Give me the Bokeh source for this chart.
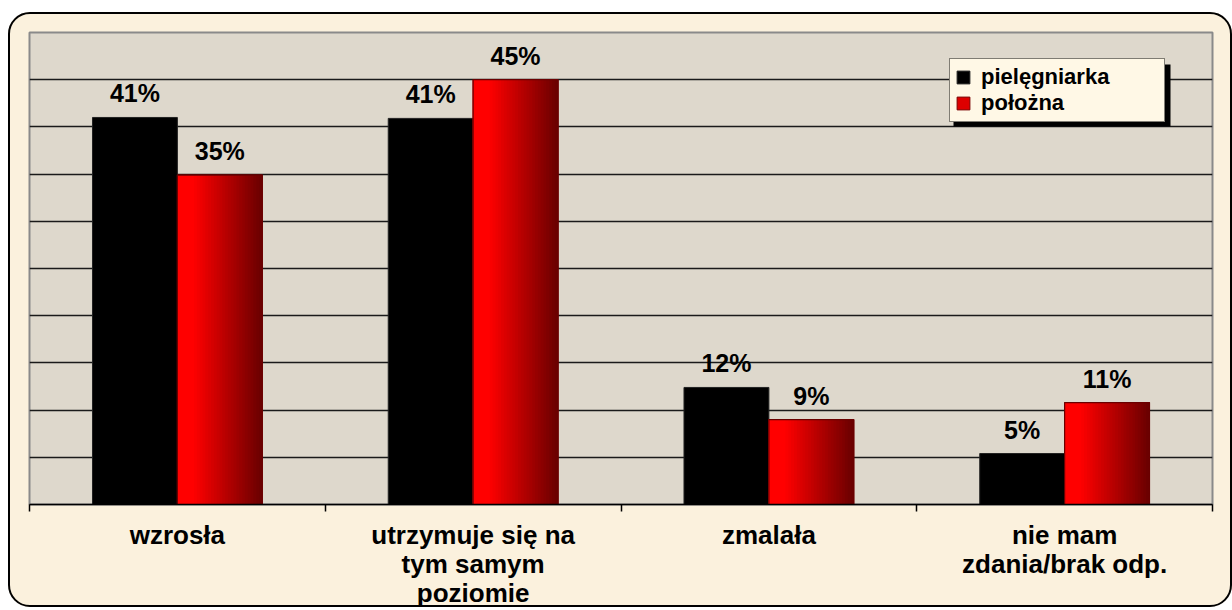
from bokeh.plotting import figure
from bokeh.models import (ColumnDataSource, FixedTicker, Legend, LegendItem,
                          LabelSet, BoxAnnotation, InlineStyleSheet)
from bokeh.core.properties import value
from bokeh.embed import file_html
from bokeh.resources import INLINE

categories = ["wzrosła", "utrzymuje się na\ntym samym\npoziomie", "zmalała",
              "nie mam\nzdania/brak odp."]
pielegniarka = [41.0, 40.9, 12.4, 5.4]
polozna = [34.9, 45.0, 9.0, 10.8]
labels_piel = ["41%", "41%", "12%", "5%"]
labels_pol = ["35%", "45%", "9%", "11%"]
series_names = ["pielęgniarka", "położna"]

FONT = "Liberation Sans"
BW = 0.287
N_SLICES = 30

n = len(categories)
centers = [i + 0.5 for i in range(n)]

panel_css = InlineStyleSheet(css="""
:host::after {
  content: "";
  position: absolute;
  left: 8px; top: 12px; right: 0px; bottom: 3px;
  border: 2.5px solid black;
  border-radius: 22px;
  box-shadow: 0 0 0 40px white;
  pointer-events: none;
  z-index: 10;
}
""")

p = figure(width=1232, height=610, x_range=(0, n), y_range=(0, 50),
           output_backend="svg", toolbar_location=None, y_axis_location=None,
           min_border_left=29, min_border_right=20, min_border_top=32,
           min_border_bottom=106, stylesheets=[panel_css])
p.border_fill_color = "#fbf1dd"
p.background_fill_color = "#ded8cc"
p.outline_line_color = "#8a8a8a"
p.outline_line_width = 2

p.ygrid.ticker = FixedTicker(ticks=list(range(5, 50, 5)))
p.ygrid.grid_line_color = "#1a1a1a"
p.ygrid.grid_line_width = 1.5
p.xgrid.visible = False

src_p = ColumnDataSource(dict(x=[c - BW / 2 for c in centers], top=pielegniarka,
                              lab=labels_piel))
src_r = ColumnDataSource(dict(x=[c + BW / 2 for c in centers], top=polozna,
                              lab=labels_pol))

r_black = p.vbar(x="x", top="top", width=BW, bottom=0, source=src_p,
                 fill_color="black", line_color="#222222", line_width=1)
r_red = p.vbar(x="x", top="top", width=BW, bottom=0, source=src_r,
               fill_color="#dd0000", line_color="#7a0000", line_width=1)

# gradient slices of red bars
xs, tops, cols = [], [], []
for ci, c in enumerate(centers):
    for k in range(N_SLICES):
        t = k / (N_SLICES - 1)
        f = 0.0 if t < 0.18 else (t - 0.18) / 0.82
        r = int(round(255 - f * (255 - 108)))
        xs.append(c + BW * (k + 0.5) / N_SLICES)
        tops.append(polozna[ci])
        cols.append("#%02x0000" % r)
p.vbar(x=xs, top=tops, width=BW / N_SLICES * 1.25, bottom=0,
       fill_color=cols, line_color=None)
p.vbar(x="x", top="top", width=BW, bottom=0, source=src_r,
       fill_color=None, line_color="#6a0000", line_width=1.2)

for src in (src_p, src_r):
    p.add_layout(LabelSet(x="x", y="top", text="lab", source=src,
                          text_align="center", text_baseline="bottom",
                          y_offset=10, text_font=value(FONT),
                          text_font_style="bold",
                          text_font_size="25px", text_color="black"))

ax = p.xaxis[0]
ax.ticker = FixedTicker(ticks=centers, minor_ticks=list(range(n + 1)))
ax.major_label_overrides = {c: lab for c, lab in zip(centers, categories)}
ax.major_tick_line_color = None
ax.minor_tick_line_color = "black"
ax.minor_tick_line_width = 1.5
ax.minor_tick_in = 0
ax.minor_tick_out = 7
ax.axis_line_color = "black"
ax.axis_line_width = 1.5
ax.major_label_text_font = FONT
ax.major_label_text_font_style = "bold"
ax.major_label_text_font_size = "26px"
ax.major_label_text_line_height = 0.97
ax.major_label_standoff = 8
ax.major_label_text_color = "black"

# legend shadow
p.add_layout(BoxAnnotation(left=953, right=1170, top=64, bottom=126,
                           left_units="canvas", right_units="canvas",
                           top_units="canvas", bottom_units="canvas",
                           fill_color="black", fill_alpha=1, line_color=None,
                           level="annotation"))

legend = Legend(items=[LegendItem(label=series_names[0], renderers=[r_black]),
                       LegendItem(label=series_names[1], renderers=[r_red])],
                location=(920, 382), orientation="vertical",
                background_fill_color="#fff8e6", background_fill_alpha=1,
                border_line_color="black", border_line_width=1.5,
                label_text_font=FONT, label_text_font_style="bold",
                label_text_font_size="22px", label_text_color="black",
                glyph_width=16, glyph_height=16, label_height=20,
                label_width=178, label_standoff=10, padding=5, spacing=0,
                margin=0)
p.add_layout(legend, "center")

open("out.html", "w").write(file_html(p, INLINE))
